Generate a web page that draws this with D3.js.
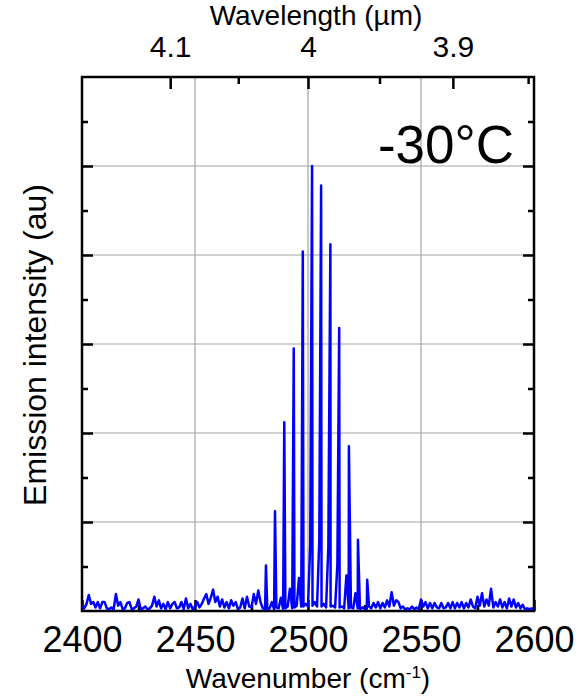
<!DOCTYPE html>
<html>
<head>
<meta charset="utf-8">
<script src="https://cdn.jsdelivr.net/npm/d3@7"></script>
<style>
    body { margin: 0; background: #fff; }
    text { font-family: "Liberation Sans", Arial, Helvetica, sans-serif; fill: #000; }
</style>
</head>
<body>
<div id="chart"></div>
<script>
// background noise, one value per cm^-1 starting at 2400
const baseStart = 2400;
const baseline = [
    0.05, 0.03, 0.08, 0.18, 0.08, 0.10, 0.04, 0.10, 0.03, 0.10,
    0.10, 0.03, 0.02, 0.04, 0.02, 0.19, 0.06, 0.10, 0.02, 0.03,
    0.09, 0.10, 0.02, 0.03, 0.05, 0.13, 0.02, 0.03, 0.05, 0.02,
    0.03, 0.06, 0.16, 0.05, 0.12, 0.03, 0.08, 0.02, 0.10, 0.03,
    0.08, 0.10, 0.03, 0.04, 0.10, 0.02, 0.14, 0.03, 0.08, 0.02,
    0.05, 0.10, 0.04, 0.08, 0.14, 0.19, 0.08, 0.15, 0.24, 0.10,
    0.16, 0.05, 0.13, 0.04, 0.10, 0.03, 0.12, 0.06, 0.10, 0.02,
    0.04, 0.14, 0.03, 0.16, 0.05, 0.04, 0.19, 0.08, 0.23, 0.10,
    0.03, 0.02, 0.02, 0.03, 0.10, 0.02, 0.04, 0.03, 0.15, 0.02,
    0.03, 0.05, 0.25, 0.03, 0.04, 0.06, 0.37, 0.05, 0.05, 0.08,
    0.05, 0.76, 0.06, 0.10, 0.05, 0.80, 0.05, 0.08, 0.04, 0.72,
    0.05, 0.06, 0.04, 0.52, 0.04, 0.05, 0.03, 0.40, 0.03, 0.04,
    0.03, 0.20, 0.03, 0.02, 0.04, 0.03, 0.02, 0.05, 0.03, 0.09,
    0.04, 0.10, 0.03, 0.09, 0.04, 0.12, 0.05, 0.21, 0.06, 0.12,
    0.10, 0.03, 0.05, 0.02, 0.03, 0.02, 0.05, 0.02, 0.04, 0.02,
    0.13, 0.05, 0.10, 0.03, 0.09, 0.03, 0.09, 0.04, 0.03, 0.09,
    0.03, 0.04, 0.09, 0.03, 0.10, 0.03, 0.09, 0.04, 0.10, 0.03,
    0.09, 0.04, 0.13, 0.05, 0.03, 0.16, 0.06, 0.20, 0.05, 0.13,
    0.06, 0.25, 0.04, 0.10, 0.05, 0.13, 0.04, 0.10, 0.03, 0.14,
    0.05, 0.13, 0.04, 0.09, 0.03, 0.07, 0.02, 0.03, 0.02, 0.03,
    0.02
];

// laser modes
const peakWavenumber = [2481.4, 2485.4, 2489.5, 2493.7, 2497.7, 2501.8, 2505.8, 2509.9, 2513.8, 2518.1, 2522.1, 2526.2];
const peakIntensity  = [0.51, 1.12, 2.12, 2.95, 4.04, 5.00, 4.78, 4.12, 3.18, 1.85, 0.80, 0.35];

const xTicks = [2400, 2450, 2500, 2550, 2600];
const xMinorTicks = [2425, 2475, 2525, 2575];
const xGrid = [2450, 2500, 2550];
const wlTicks = [4.1, 4.0, 3.9];
const wlMinorTicks = [4.05, 3.95, 3.85];
const yTicks = [1, 2, 3, 4, 5];
const yMinorTicks = [0.5, 1.5, 2.5, 3.5, 4.5, 5.5];

const width = 588;
const height = 698;
const margin = { top: 77, right: 54, bottom: 87, left: 82 };

let points = baseline.map((v, i) => ({ x: baseStart + i, y: v }));
peakWavenumber.forEach((p, i) => points.push({ x: p, y: peakIntensity[i] }));
points.sort((a, b) => a.x - b.x);

let svg = d3.select("#chart")
    .append("svg")
    .attr("width", width)
    .attr("height", height);

let x = d3.scaleLinear()
    .domain([2400, 2600])
    .range([margin.left, width - margin.right]);

let y = d3.scaleLinear()
    .domain([0, 6])
    .range([height - margin.bottom, margin.top]);

let x0 = x.range()[0], x1 = x.range()[1];
let y0 = y.range()[0], y1 = y.range()[1];

// grid
svg.append("g").selectAll("line")
    .data(xGrid)
    .join("line")
    .attr("x1", d => x(d)).attr("x2", d => x(d))
    .attr("y1", y0).attr("y2", y1)
    .attr("stroke", "#a3a3a3").attr("stroke-width", 1.2);

svg.append("g").selectAll("line")
    .data(yTicks)
    .join("line")
    .attr("x1", x0).attr("x2", x1)
    .attr("y1", d => y(d)).attr("y2", d => y(d))
    .attr("stroke", "#a3a3a3").attr("stroke-width", 1.2);

function styleAxis(g, fontSize) {
    g.select(".domain").remove();
    g.selectAll(".tick line").attr("stroke", "#000").attr("stroke-width", 2.5);
    g.selectAll(".tick text").attr("font-size", fontSize).attr("fill", "#000")
        .attr("font-family", '"Liberation Sans", Arial, Helvetica, sans-serif');
}

// bottom axis
svg.append("g")
    .attr("transform", "translate(0," + y0 + ")")
    .call(d3.axisBottom(x).tickValues(xTicks).tickSize(-11).tickPadding(15).tickFormat(d3.format("d")))
    .call(g => styleAxis(g, 36));

svg.append("g")
    .attr("transform", "translate(0," + y0 + ")")
    .call(d3.axisBottom(x).tickValues(xMinorTicks).tickSize(-6).tickFormat(""))
    .call(g => styleAxis(g, 0));

// top axis in wavelength (um) = 10000 / wavenumber
svg.append("g")
    .attr("transform", "translate(0," + y1 + ")")
    .call(d3.axisTop(x).tickValues(wlTicks.map(w => 10000 / w)).tickSize(-12).tickPadding(20)
        .tickFormat(d => d3.format("~g")(+(10000 / d).toFixed(2))))
    .call(g => styleAxis(g, 30));

svg.append("g")
    .attr("transform", "translate(0," + y1 + ")")
    .call(d3.axisTop(x).tickValues(wlMinorTicks.map(w => 10000 / w)).tickSize(-7).tickFormat(""))
    .call(g => styleAxis(g, 0));

// left / right axes, no labels
svg.append("g")
    .attr("transform", "translate(" + x0 + ",0)")
    .call(d3.axisLeft(y).tickValues(yTicks).tickSize(-11).tickFormat(""))
    .call(g => styleAxis(g, 0));
svg.append("g")
    .attr("transform", "translate(" + x0 + ",0)")
    .call(d3.axisLeft(y).tickValues(yMinorTicks).tickSize(-6).tickFormat(""))
    .call(g => styleAxis(g, 0));
svg.append("g")
    .attr("transform", "translate(" + x1 + ",0)")
    .call(d3.axisRight(y).tickValues(yTicks).tickSize(-11).tickFormat(""))
    .call(g => styleAxis(g, 0));
svg.append("g")
    .attr("transform", "translate(" + x1 + ",0)")
    .call(d3.axisRight(y).tickValues(yMinorTicks).tickSize(-6).tickFormat(""))
    .call(g => styleAxis(g, 0));

// frame
svg.append("rect")
    .attr("x", x0).attr("y", y1)
    .attr("width", x1 - x0).attr("height", y0 - y1)
    .attr("fill", "none").attr("stroke", "#000").attr("stroke-width", 2.5);

// spectrum
svg.append("path")
    .datum(points)
    .attr("fill", "none")
    .attr("stroke", "#0000ff")
    .attr("stroke-width", 2.5)
    .attr("stroke-linejoin", "round")
    .attr("d", d3.line().x(d => x(d.x)).y(d => y(d.y)));

// labels
svg.append("text")
    .attr("x", 514).attr("y", 163)
    .attr("text-anchor", "end")
    .attr("font-size", 53)
    .text("-30°C");

svg.append("text")
    .attr("x", 316).attr("y", 25)
    .attr("text-anchor", "middle")
    .attr("font-size", 28)
    .text("Wavelength (µm)");

let xlab = svg.append("text")
    .attr("x", 308).attr("y", 688)
    .attr("text-anchor", "middle")
    .attr("font-size", 28);
xlab.append("tspan").text("Wavenumber (cm");
xlab.append("tspan").attr("font-size", 17).attr("dy", -10).text("-1");
xlab.append("tspan").attr("dy", 10).text(")");

svg.append("text")
    .attr("transform", "translate(46,345) rotate(-90)")
    .attr("text-anchor", "middle")
    .attr("font-size", 32)
    .text("Emission intensity (au)");
</script>
</body>
</html>
